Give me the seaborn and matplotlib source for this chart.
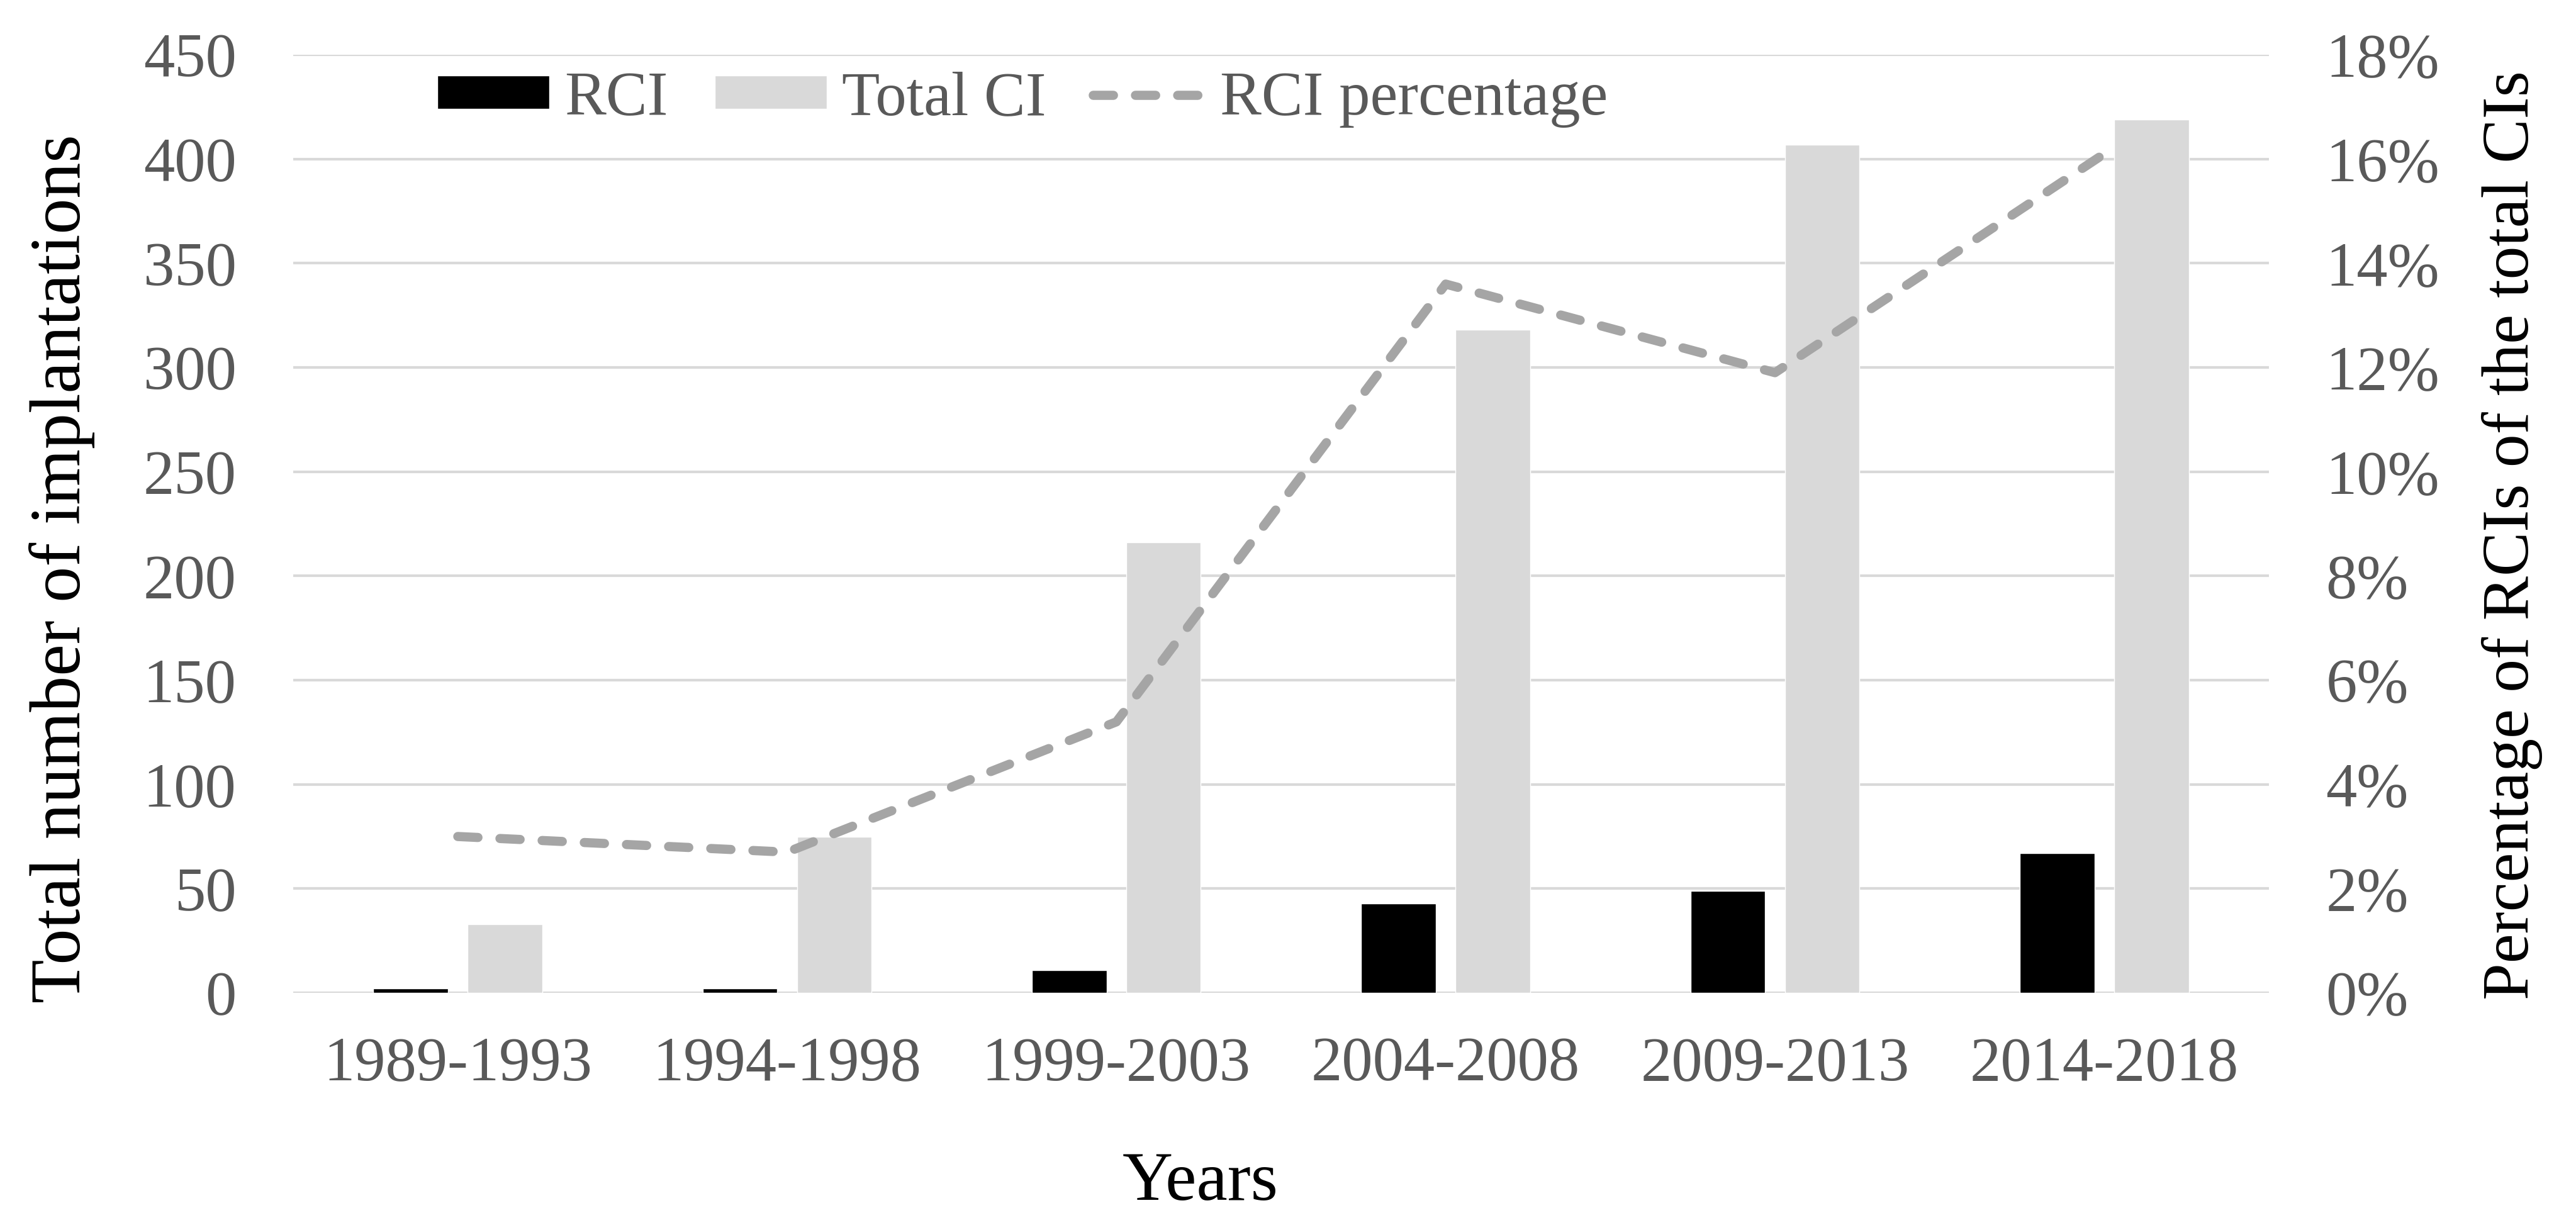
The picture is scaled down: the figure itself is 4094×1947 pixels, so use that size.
import numpy as np
import pandas as pd
import matplotlib
matplotlib.use('Agg')
import matplotlib.pyplot as plt
import seaborn as sns

sns.set_style('white')
plt.rcParams['font.family'] = ['Liberation Serif', 'DejaVu Serif']

periods = ['1989-1993', '1994-1998', '1999-2003', '2004-2008', '2009-2013', '2014-2018']
rci = [2, 2, 11, 43, 49, 67]
total_ci = [33, 75, 216, 318, 407, 419]
rci_pct = [3.0, 2.7, 5.2, 13.6, 11.9, 16.1]

left_ticks = list(range(0, 451, 50))
right_ticks = list(range(0, 19, 2))

TICK_COLOR = '#595959'
GRID_COLOR = '#D9D9D9'
LINE_COLOR = '#A5A5A5'

df = pd.DataFrame({
    'period': periods * 2,
    'value': rci + total_ci,
    'series': ['RCI'] * len(periods) + ['Total CI'] * len(periods),
})

fig = plt.figure(figsize=(40.94, 19.47), dpi=100)
ax = fig.add_axes([0.1138, 0.1895, 0.767, 0.7658])

sns.barplot(
    data=df, x='period', y='value', hue='series',
    palette={'RCI': '#000000', 'Total CI': GRID_COLOR},
    width=0.573, gap=0.21, saturation=1, ax=ax,
)
bar_handles, bar_labels = ax.get_legend_handles_labels()
if ax.get_legend() is not None:
    ax.get_legend().remove()

ax.set_ylim(0, 450)
ax.set_yticks(left_ticks)
ax.set_xlim(-0.5, len(periods) - 0.5)
ax.yaxis.grid(True, color=GRID_COLOR, lw=3)
ax.xaxis.grid(False)
ax.set_axisbelow(True)
for s in ax.spines.values():
    s.set_visible(False)
ax.set_xlabel('')
ax.set_ylabel('')
ax.tick_params(axis='y', length=0, pad=65, labelsize=71, labelcolor=TICK_COLOR)
ax.tick_params(axis='x', length=0, pad=50, labelsize=71, labelcolor=TICK_COLOR)

ax2 = ax.twinx()
sns.lineplot(
    x=np.arange(len(periods)), y=rci_pct, ax=ax2,
    color=LINE_COLOR, lw=10.5, linestyle='--',
    dashes=False, label='RCI percentage', legend=False,
)
line = ax2.get_lines()[0]
line.set_dashes([2.2, 2.4])
line.set_dash_capstyle('round')
ax2.set_ylim(0, 18)
ax2.set_yticks(right_ticks)
ax2.set_yticklabels([f'{t}%' for t in right_ticks])
ax2.set_xlim(-0.5, len(periods) - 0.5)
ax2.grid(False)
for s in ax2.spines.values():
    s.set_visible(False)
ax2.set_ylabel('')
ax2.tick_params(axis='y', length=0, pad=65, labelsize=71, labelcolor=TICK_COLOR)

fig.legend(
    bar_handles + [line], bar_labels + ['RCI percentage'],
    loc='center', bbox_to_anchor=(0.397, 0.919), ncol=3, frameon=False,
    fontsize=71, labelcolor=TICK_COLOR, handlelength=1.8, handleheight=0.44,
    handletextpad=0.25, columnspacing=0.75,
)

fig.text(0.024, 0.5357, 'Total number of implantations', rotation=90,
         ha='center', va='center', fontsize=82, color='black')
fig.text(0.9753, 0.563, 'Percentage of RCIs of the total CIs', rotation=90,
         ha='center', va='center', fontsize=76, color='black')
fig.text(0.466, 0.0344, 'Years', ha='center', va='center', fontsize=80, color='black')

fig.savefig('out.png', dpi=100, facecolor='white')
